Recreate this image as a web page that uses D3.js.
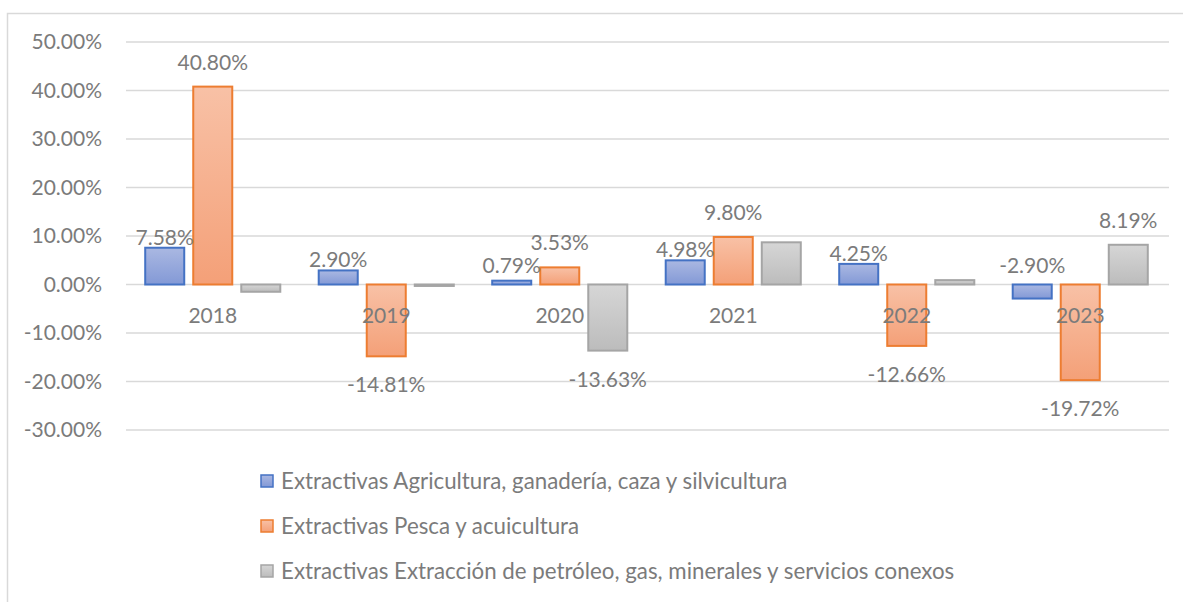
<!DOCTYPE html>
<html>
<head>
<meta charset="utf-8">
<script src="https://cdn.jsdelivr.net/npm/d3@7"></script>
<style>
  body { margin: 0; background: #fff; }
  text { font-family: Lato, "Open Sans", sans-serif; fill: #7b7b7b; }
</style>
</head>
<body>
<svg></svg>
<script>
var years = ["2018", "2019", "2020", "2021", "2022", "2023"];
var seriesNames = [
    "Extractivas Agricultura, ganadería, caza y silvicultura",
    "Extractivas Pesca y acuicultura",
    "Extractivas Extracción de petróleo, gas, minerales y servicios conexos"
];
var agricultura = [7.58, 2.90, 0.79, 4.98, 4.25, -2.90];
var pesca = [40.80, -14.81, 3.53, 9.80, -12.66, -19.72];
var petroleo = [-1.5, -0.3, -13.63, 8.7, 0.9, 8.19];
// which bars carry a value label (as in the original)
var labelled = [
    [true, true, true, true, true, true],
    [true, true, true, true, true, true],
    [false, false, true, false, false, true]
];
var yTicks = [50, 40, 30, 20, 10, 0, -10, -20, -30];

var width = 1183, height = 602;
var colors = [
    {stroke: "#4472c4", top: "#aab8e2", bottom: "#8399d6"},
    {stroke: "#ed7d31", top: "#f8c1a6", bottom: "#f4a078"},
    {stroke: "#a5a5a5", top: "#d6d6d6", bottom: "#bcbcbc"}
];
var allSeries = [agricultura, pesca, petroleo];

// percent with a plain hyphen for negatives, like the original
function pct(v) { return v.toFixed(2) + "%"; }

var svg = d3.select("svg").attr("width", width).attr("height", height);

// gradients for the bar fills
var defs = svg.append("defs");
colors.forEach(function(c, i) {
    var grad = defs.append("linearGradient")
        .attr("id", "grad" + i)
        .attr("x1", 0).attr("y1", 0).attr("x2", 0).attr("y2", 1);
    grad.append("stop").attr("offset", "0%").attr("stop-color", c.top);
    grad.append("stop").attr("offset", "100%").attr("stop-color", c.bottom);
});

// chart frame (only left and top edges are visible in the picture)
svg.append("path")
    .attr("d", "M7.5," + height + "V13.5H" + width)
    .attr("fill", "none")
    .attr("stroke", "#d9d9d9")
    .attr("stroke-width", 1.5);

var x = d3.scaleBand().domain(years).range([126, 1167]);
var xSub = d3.scaleBand().domain([0, 1, 2])
    .range([0, x.step()])
    .paddingInner(0.1875)
    .paddingOuter(0.4);
var y = d3.scaleLinear().domain([-30, 50]).range([430, 42]);

// gridlines
svg.append("g")
    .selectAll("line")
    .data(yTicks)
    .enter()
    .append("line")
    .attr("x1", 126).attr("x2", 1169)
    .attr("y1", function(d) { return y(d); })
    .attr("y2", function(d) { return y(d); })
    .attr("stroke", "#d9d9d9")
    .attr("stroke-width", 1.5);

// y axis labels
var yAxis = d3.axisLeft(y)
    .tickValues(yTicks)
    .tickSize(0)
    .tickPadding(0)
    .tickFormat(pct);
var ya = svg.append("g").attr("transform", "translate(102,0)").call(yAxis);
ya.select(".domain").remove();
ya.selectAll("text")
    .style("font-size", "21px")
    .style("font-family", "Lato, sans-serif")
    .attr("fill", "#7b7b7b");

// bars
var groups = svg.append("g")
    .selectAll("g")
    .data(years)
    .enter()
    .append("g")
    .attr("transform", function(d) { return "translate(" + x(d) + ",0)"; });

groups.selectAll("rect")
    .data(function(d, i) {
        return allSeries.map(function(s, k) { return {k: k, v: s[i]}; });
    })
    .enter()
    .append("rect")
    .attr("x", function(d) { return xSub(d.k); })
    .attr("width", xSub.bandwidth())
    .attr("y", function(d) { return y(Math.max(0, d.v)); })
    .attr("height", function(d) { return Math.abs(y(d.v) - y(0)); })
    .attr("fill", function(d) { return "url(#grad" + d.k + ")"; })
    .attr("stroke", function(d) { return colors[d.k].stroke; })
    .attr("stroke-width", 2);

// category labels, just under the zero line
groups.append("text")
    .attr("x", x.step() / 2)
    .attr("y", y(0) + 38)
    .attr("text-anchor", "middle")
    .style("font-size", "21px")
    .text(function(d) { return d; });

// value labels
groups.selectAll("text.val")
    .data(function(d, i) {
        return allSeries.map(function(s, k) { return {k: k, v: s[i], show: labelled[k][i]}; })
            .filter(function(d) { return d.show; });
    })
    .enter()
    .append("text")
    .attr("class", "val")
    .attr("x", function(d) { return xSub(d.k) + xSub.bandwidth() / 2; })
    .attr("y", function(d) {
        var top = y(Math.max(0, d.v));
        if (d.k === 0) return Math.min(top - 11, y(0) - 20) + 8;
        if (d.v >= 0) return top - 25 + 8;
        return y(d.v) + 28 + 8;
    })
    .attr("text-anchor", "middle")
    .style("font-size", "21px")
    .text(function(d) { return pct(d.v); });

// legend
var legend = svg.append("g")
    .selectAll("g")
    .data(seriesNames)
    .enter()
    .append("g")
    .attr("transform", function(d, i) { return "translate(261," + (481 + i * 45) + ")"; });

legend.append("rect")
    .attr("x", 0).attr("y", -6)
    .attr("width", 12).attr("height", 12)
    .attr("fill", function(d, i) { return "url(#grad" + i + ")"; })
    .attr("stroke", function(d, i) { return colors[i].stroke; })
    .attr("stroke-width", 1.5);

legend.append("text")
    .attr("x", 20)
    .attr("y", 8)
    .style("font-size", "22.3px")
    .text(function(d) { return d; });
</script>
</body>
</html>
